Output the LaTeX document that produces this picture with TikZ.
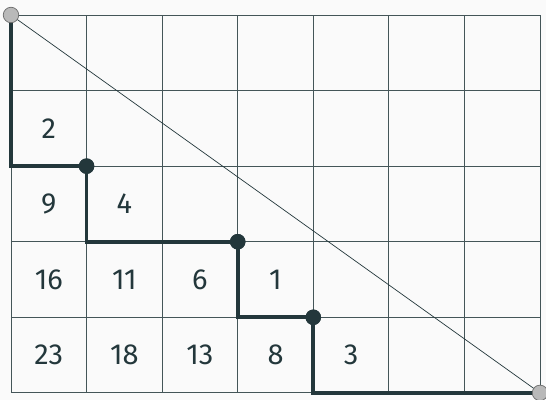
\documentclass[tikz,border=0pt]{standalone}
\usepackage{fontspec}
\setmainfont{Fira Sans}
\usepackage{xcolor}
\definecolor{mDarkTeal}{HTML}{23373B}
\definecolor{mBg}{HTML}{FAFAFA}

\begin{document}
\begin{tikzpicture}[
  x=75.6pt, y=-75.6pt,
  gridline/.style={draw=mDarkTeal!85, line width=0.8pt},
  diag/.style={draw=mDarkTeal, line width=0.7pt},
  lattice/.style={draw=mDarkTeal, line width=3.8pt},
  turn/.style={circle, fill=mDarkTeal, minimum size=15.5pt, inner sep=0pt},
  corner/.style={circle, fill=gray!55, draw=gray!85!black, line width=0.7pt, minimum size=15.5pt, inner sep=0pt},
  num/.style={font=\fontsize{29pt}{34pt}\selectfont, text=mDarkTeal}
]
\fill[mBg] (-0.1455,-0.1984) rectangle (7.0794,5.0926);
\useasboundingbox (-0.1455,-0.1984) rectangle (7.0794,5.0926);

\draw[gridline, step=75.6pt] (0,0) grid (7,5);

% numbers in the cells below the path
\foreach \r/\c/\n in {1/0/2, 2/0/9, 2/1/4, 3/0/16, 3/1/11, 3/2/6, 3/3/1,
                      4/0/23, 4/1/18, 4/2/13, 4/3/8, 4/4/3}
  \node[num] (n\n) at (\c+0.5,\r+0.5) {\n};

\coordinate (s) at (0,0);
\coordinate (t) at (7,5);
\node[turn] (d1) at (1,2) {};
\node[turn] (d2) at (3,3) {};
\node[turn] (d3) at (4,4) {};

\draw[diag] (s) -- (t);
\draw[lattice] (s) |- (d1.center) |- (d2.center) |- (d3.center) |- (t);
\node[turn] at (d1.center) {};
\node[turn] at (d2.center) {};
\node[turn] at (d3.center) {};

\node[corner] (cs) at (s) {};
\node[corner] (ct) at (t) {};
\end{tikzpicture}
\end{document}
